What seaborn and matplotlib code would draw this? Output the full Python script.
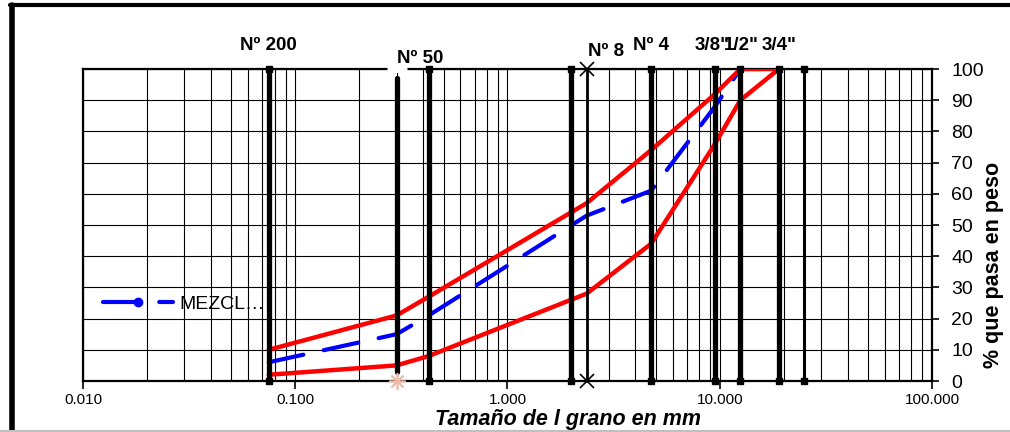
import matplotlib
matplotlib.use("Agg")
import matplotlib.pyplot as plt
from matplotlib.lines import Line2D
import pandas as pd
import seaborn as sns

# tamices (mm)
sieve_mm = [0.075, 0.3, 0.425, 2.0, 2.36, 4.75, 9.5, 12.5, 19.0, 25.0]
sieve_names = ["Nº 200", "Nº 50", "Nº 40", "Nº 10", "Nº 8", "Nº 4", '3/8"', '1/2"', '3/4"', '1"']
shown_labels = ["Nº 200", "Nº 50", "Nº 8", "Nº 4", '3/8"', '1/2"', '3/4"']

# curvas granulometricas
size_mm = [0.075, 0.3, 0.425, 2.36, 4.75, 9.5, 12.5, 19.0]
upper_limit = [10, 21, 27, 57, 74, 92, 100, 100]
lower_limit = [2, 5, 8, 28, 44, 76, 90, 100]
mezcla = [6, 15, 21, 53, 61, 88, 100, 100]

df = pd.DataFrame({"size": size_mm, "sup": upper_limit, "inf": lower_limit, "mezcla": mezcla})

sns.set_style("white")
plt.rcParams["font.family"] = ["Liberation Sans", "DejaVu Sans"]
plt.rcParams["text.color"] = "black"
plt.rcParams["xtick.color"] = "black"
plt.rcParams["ytick.color"] = "black"

fig = plt.figure(figsize=(10.1, 4.32), dpi=100)
ax = fig.add_axes([83 / 1010, 51 / 432, 849 / 1010, 312 / 432])

ax.set_xscale("log")
ax.set_xlim(0.01, 100)
ax.set_ylim(0, 100)

# rejilla
ax.set_yticks(range(0, 101, 10))
ax.grid(True, which="major", axis="y", color="black", lw=0.8)
ax.grid(True, which="both", axis="x", color="black", lw=0.8)
ax.set_axisbelow(True)

# curvas
sns.lineplot(data=df, x="size", y="mezcla", ax=ax, color="#0000ff", lw=3,
             linestyle=(0, (8.5, 5)), dash_capstyle="round", zorder=2)
sns.lineplot(data=df, x="size", y="sup", ax=ax, color="#ff0000", lw=3.2, zorder=3)
sns.lineplot(data=df, x="size", y="inf", ax=ax, color="#ff0000", lw=3.2, zorder=3)

# lineas de tamices
for mm, name in zip(sieve_mm, sieve_names):
    if name == "Nº 50":
        ax.plot([mm, mm], [3, 97], color="black", lw=3.8, zorder=5, clip_on=False)
        ax.plot([mm], [0], marker=(8, 2, 0), ms=12, color="#f4b9a2", mew=1.2, zorder=6, clip_on=False)
        ax.plot([mm], [100], marker="_", ms=14, mew=5, color="white", zorder=6, clip_on=False)
    elif name == "Nº 8":
        ax.plot([mm, mm], [0, 100], color="black", lw=2, marker="x", ms=10, mew=1.2,
                zorder=5, clip_on=False)
    elif name == '1"':
        ax.plot([mm, mm], [0, 100], color="black", lw=2.2, marker="s", ms=4,
                zorder=5, clip_on=False)
    else:
        ax.plot([mm, mm], [0, 100], color="black", lw=3.8, marker="s", ms=5,
                zorder=5, clip_on=False)

# etiquetas superiores
label_y = [107.5, 103.5, 105.5, 107.5, 107.5, 107.5, 107.5]
label_ha = ["center", "left", "left", "center", "center", "center", "center"]
label_dx = [1.0, 1.0, 1.02, 1.0, 0.972, 1.012, 1.0]
for name, y, ha, dx in zip(shown_labels, label_y, label_ha, label_dx):
    mm = sieve_mm[sieve_names.index(name)]
    ax.text(mm * dx, y, name, ha=ha, va="center", fontsize=13.5, fontweight="bold",
            clip_on=False)

# ejes
for side in ["left", "right", "top", "bottom"]:
    ax.spines[side].set_visible(True)
    ax.spines[side].set_color("black")
    ax.spines[side].set_linewidth(1.6)

ax.yaxis.tick_right()
ax.tick_params(axis="y", which="both", right=True, left=False, length=5, width=1.2,
               labelsize=14, pad=9, direction="out", colors="black")
ax.set_xticks([0.01, 0.1, 1, 10, 100])
ax.set_xticklabels(["0.010", "0.100", "1.000", "10.000", "100.000"])
ax.tick_params(axis="x", which="major", bottom=True, length=6, width=1.2, labelsize=11,
               pad=3, direction="out", colors="black")
ax.tick_params(axis="x", which="minor", bottom=False)
ax.set_xlabel("")
ax.set_ylabel("")

fig.text(568 / 1010, 1 - 419 / 432, "Tamaño de l grano en mm", ha="center", va="center",
         fontsize=15.5, fontweight="bold", fontstyle="italic")
fig.text(993 / 1010, 1 - 265 / 432, "% que pasa en peso", ha="center", va="center",
         rotation=90, fontsize=15.5, fontweight="bold")

# leyenda
handle = Line2D([], [], color="#0000ff", lw=3, linestyle=(0, (8.5, 5)),
                dash_capstyle="round", marker="o", ms=6)
ax.legend([handle], ["MEZCL…"], loc="center left", bbox_to_anchor=(20 / 849, 77 / 312),
          frameon=False, fontsize=14, handlelength=3.6, handletextpad=0.35,
          borderpad=0, borderaxespad=0, numpoints=1)

# marco exterior
fig.add_artist(Line2D([12 / 1010, 12 / 1010], [0, 1 - 5 / 432], color="black", lw=4))
fig.add_artist(Line2D([10 / 1010, 1], [1 - 5 / 432, 1 - 5 / 432], color="black", lw=3))
fig.add_artist(Line2D([0, 1], [1.5 / 432, 1.5 / 432], color="#c0c0c0", lw=1.5))

fig.savefig("out.png", dpi=100)
